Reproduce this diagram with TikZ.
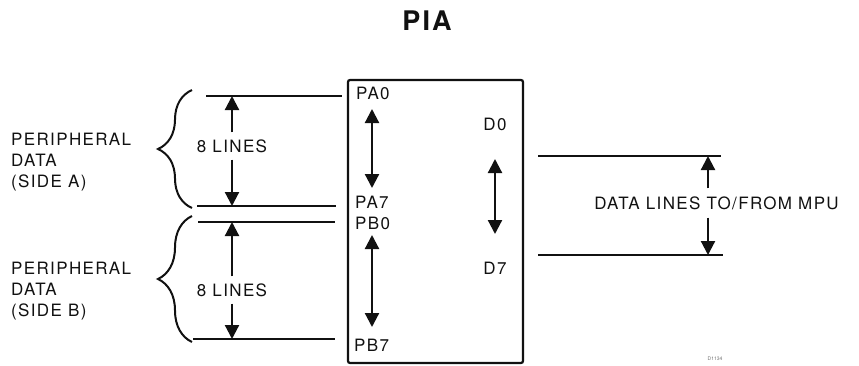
\documentclass[tikz,border=0pt]{standalone}
\usepackage{fontspec}
\setmainfont{TeX Gyre Heros}
\newfontfamily\piafont[LetterSpace=8]{TeX Gyre Heros}
\usetikzlibrary{arrows.meta,decorations.pathreplacing}
\definecolor{inkblack}{HTML}{111111}
\tikzset{
  pialabel/.style={font=\piafont\fontsize{17}{21}\selectfont, text=inkblack,
                   inner sep=0pt, align=left},
  pinlabel/.style={pialabel, anchor=west},
  dimlabel/.style={pialabel, inner ysep=7pt},
  busline/.style={draw=inkblack, line width=2.2pt},
  dimarrow/.style={-{Triangle[length=14pt,width=14pt]}, draw=inkblack,
                   line width=2.2pt},
  busarrow/.style={{Triangle[length=14pt,width=14pt]}-{Triangle[length=14pt,width=14pt]},
                   draw=inkblack, line width=2.2pt},
  sidebrace/.style={decorate, decoration={brace, amplitude=34pt},
                    draw=inkblack, line width=2pt},
  chip/.style={draw=inkblack, line width=2.2pt, rounded corners=2pt,
               inner sep=0pt},
}

\begin{document}
\begin{tikzpicture}[x=1pt,y=-1pt]
\useasboundingbox (0,0) rectangle (859,365);
\node[font=\piafont\fontsize{27}{30}\selectfont\bfseries, text=inkblack] (title) at (427,21) {PIA};
\node[chip, minimum width=175pt, minimum height=283pt] (pia) at (435.5,221.5) {};
% side A and side B lines
\coordinate (aTopL) at (206,96);  \coordinate (aTopR) at (342,96);
\coordinate (aBotL) at (197,206); \coordinate (aBotR) at (336,206);
\coordinate (bTopL) at (198,222); \coordinate (bTopR) at (335,222);
\coordinate (bBotL) at (193,339); \coordinate (bBotR) at (335,339);
\draw[busline] (aTopL)--(aTopR); \draw[busline] (aBotL)--(aBotR);
\draw[busline] (bTopL)--(bTopR); \draw[busline] (bBotL)--(bBotR);
\node[dimlabel] (linesA) at (232,146) {8 LINES};
\node[dimlabel] (linesB) at (232,290) {8 LINES};
\draw[dimarrow] (linesA.north)--(linesA.north |- aTopR);
\draw[dimarrow] (linesA.south)--(linesA.south |- aBotR);
\draw[dimarrow] (linesB.north)--(linesB.north |- bTopR);
\draw[dimarrow] (linesB.south)--(linesB.south |- bBotR);
% braces and side labels
\coordinate (braceAtop) at (192,90);  \coordinate (braceAbot) at (192,208);
\coordinate (braceBtop) at (192,216); \coordinate (braceBbot) at (192,342);
\draw[sidebrace] (braceAbot)--(braceAtop);
\draw[sidebrace] (braceBbot)--(braceBtop);
\node[pinlabel] (sideA) at (11,162) {PERIPHERAL\\DATA\\(SIDE A)};
\node[pinlabel] (sideB) at (11,291) {PERIPHERAL\\DATA\\(SIDE B)};
% pins inside the PIA
\node[pinlabel] (pa0) at (356,93) {PA0};
\node[pinlabel] (pa7) at (355,202) {PA7};
\node[pinlabel] (pb0) at (355,223) {PB0};
\node[pinlabel] (pb7) at (354,345) {PB7};
\node[pialabel] (d0) at (495,124) {D0};
\node[pialabel] (d7) at (495,268) {D7};
\coordinate (paTop) at (372,109); \coordinate (paBot) at (372,188);
\coordinate (pbTop) at (372,235); \coordinate (pbBot) at (372,327);
\coordinate (dTop) at (495,159);  \coordinate (dBot) at (495,234);
\draw[busarrow] (paTop)--(paBot);
\draw[busarrow] (pbTop)--(pbBot);
\draw[busarrow] (dTop)--(dBot);
% data lines to the MPU
\coordinate (mpuTL) at (538,156); \coordinate (mpuTR) at (721,156);
\coordinate (mpuBL) at (538,255); \coordinate (mpuBR) at (723,255);
\draw[busline] (mpuTL)--(mpuTR); \draw[busline] (mpuBL)--(mpuBR);
\node[dimlabel, inner ysep=8pt] (mpu) at (716.5,203) {DATA LINES TO/FROM MPU};
\coordinate (mpuX) at (708,203);
\draw[dimarrow] (mpuX |- mpu.north)--(mpuX |- mpuTR);
\draw[dimarrow] (mpuX |- mpu.south)--(mpuX |- mpuBR);
\node[font=\fontsize{5}{6}\selectfont, text=inkblack!60] (figcode) at (715,359) {D1134};
\end{tikzpicture}
\end{document}
